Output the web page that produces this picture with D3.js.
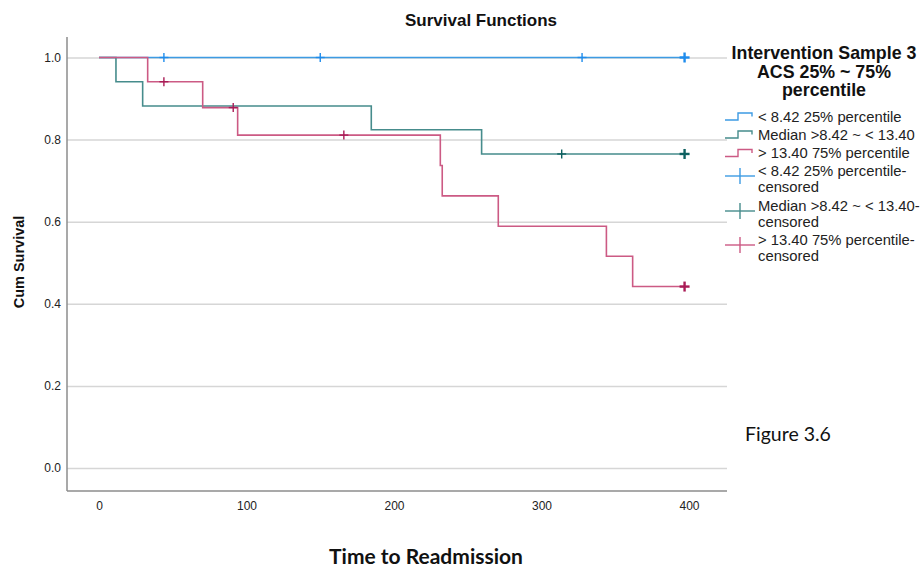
<!DOCTYPE html>
<html>
<head>
<meta charset="utf-8">
<script src="https://cdn.jsdelivr.net/npm/d3@7"></script>
<style>
  body { margin: 0; background: #fff; }
  svg { display: block; font-family: "Liberation Sans", Arial, sans-serif; }
</style>
</head>
<body>
<div id="chart"><svg width="922" height="569"></svg></div>
<script>
// step points [time, cum survival]
const lowSteps = [[0, 1.0], [397, 1.0]];
const midSteps = [[0, 1.0], [11.5, 0.941], [29.6, 0.882], [184.6, 0.824], [259.4, 0.765], [397, 0.765]];
const highSteps = [[0, 1.0], [33, 0.941], [70.3, 0.878], [94, 0.811], [231.4, 0.737], [232.7, 0.663],
                   [270.7, 0.589], [344, 0.516], [361.8, 0.442], [397, 0.442]];

// censored cases [time, cum survival, heavy]
const lowCensored = [[44, 1.0, 0], [150, 1.0, 0], [327.5, 1.0, 0], [397, 1.0, 1]];
const midCensored = [[313.7, 0.765, 0], [397, 0.765, 1]];
const highCensored = [[44, 0.941, 0], [91, 0.878, 0], [166, 0.811, 0], [397, 0.442, 1]];

const xTicks = [0, 100, 200, 300, 400];
const yTicks = [0, 0.2, 0.4, 0.6, 0.8, 1.0];

const groupNames = ["< 8.42 25% percentile", "Median >8.42 ~ < 13.40", "> 13.40 75% percentile"];
const lineColors = ["#3d9be3", "#468c8c", "#cc5a84"];
const markColors = ["#1e8ced", "#0e6060", "#a91c56"];

const svg = d3.select("svg");
const plot = {left: 67, right: 727, top: 37, bottom: 491};

const x = d3.scaleLinear().domain([0, 400]).range([99, 689]);
const y = d3.scaleLinear().domain([0, 1]).range([468, 57.5]);

// y axis with gridlines
const gy = svg.append("g")
    .attr("transform", `translate(${plot.left},0)`)
    .call(d3.axisLeft(y).tickValues(yTicks).tickFormat(d3.format(".1f"))
        .tickSize(-(plot.right - plot.left)).tickPadding(6));
gy.select(".domain").remove();
gy.selectAll(".tick line").attr("stroke", "#d6d6d6").attr("stroke-width", 1.5);
gy.selectAll(".tick text").attr("fill", "#222").style("font-size", "12px");

const gx = svg.append("g")
    .attr("transform", `translate(0,${plot.bottom})`)
    .call(d3.axisBottom(x).tickValues(xTicks).tickSize(0).tickPadding(10));
gx.select(".domain").remove();
gx.selectAll(".tick text").attr("fill", "#222").style("font-size", "12px");

// axis frame
svg.append("line").attr("x1", plot.left).attr("x2", plot.left)
    .attr("y1", plot.top).attr("y2", plot.bottom)
    .attr("stroke", "#8c8c8c").attr("stroke-width", 1.5);
svg.append("line").attr("x1", plot.left).attr("x2", plot.right)
    .attr("y1", plot.bottom).attr("y2", plot.bottom)
    .attr("stroke", "#8c8c8c").attr("stroke-width", 1.5);

const line = d3.line().x(d => x(d[0])).y(d => y(d[1])).curve(d3.curveStepAfter);

const series = [lowSteps, midSteps, highSteps];
const censored = [lowCensored, midCensored, highCensored];

series.forEach((s, i) => {
    svg.append("path").datum(s)
        .attr("d", line)
        .attr("fill", "none")
        .attr("stroke", lineColors[i])
        .attr("stroke-width", 1.6);
});

function cross(g, cx, cy, half, color, w) {
    g.append("line").attr("x1", cx - half).attr("x2", cx + half).attr("y1", cy).attr("y2", cy)
        .attr("stroke", color).attr("stroke-width", w);
    g.append("line").attr("x1", cx).attr("x2", cx).attr("y1", cy - half).attr("y2", cy + half)
        .attr("stroke", color).attr("stroke-width", w);
}

const marks = svg.append("g");
censored.forEach((c, i) => {
    c.forEach(d => cross(marks, x(d[0]), y(d[1]), d[2] ? 5 : 4.5, markColors[i], d[2] ? 2.4 : 1.4));
});

// titles
svg.append("text").attr("x", 481).attr("y", 26).attr("text-anchor", "middle")
    .style("font-size", "17px").style("font-weight", "bold").attr("fill", "#111")
    .text("Survival Functions");

svg.append("text").attr("transform", "translate(24,262) rotate(-90)").attr("text-anchor", "middle")
    .style("font-size", "14.5px").style("font-weight", "bold").attr("fill", "#111")
    .text("Cum Survival");

svg.append("text").attr("x", 426).attr("y", 564).attr("text-anchor", "middle")
    .style("font-family", "Lato, 'Open Sans', sans-serif")
    .style("font-size", "21px").style("font-weight", "bold").attr("fill", "#111")
    .text("Time to Readmission");

svg.append("text").attr("x", 745).attr("y", 441)
    .style("font-family", "Lato, 'Open Sans', sans-serif")
    .style("font-size", "19.5px").attr("fill", "#111")
    .text("Figure 3.6");

// legend
const legend = svg.append("g");
["Intervention Sample 3", "ACS 25% ~ 75%", "percentile"].forEach((t, i) => {
    legend.append("text").attr("x", 824).attr("y", 59 + i * 18.5).attr("text-anchor", "middle")
        .style("font-size", "17.8px").style("font-weight", "bold").attr("fill", "#111").text(t);
});

const stepRows = [116.5, 134.5, 153];
groupNames.forEach((name, i) => {
    const cy = stepRows[i];
    legend.append("path")
        .attr("d", `M725,${cy + 3.5}H738V${cy - 3.5}H752V${cy}`)
        .attr("fill", "none").attr("stroke", lineColors[i]).attr("stroke-width", 1.4);
    legend.append("text").attr("x", 758).attr("y", cy + 5)
        .style("font-size", "14.8px").attr("fill", "#222").text(name);
});

const plusRows = [176, 211, 245];
groupNames.forEach((name, i) => {
    const cy = plusRows[i];
    legend.append("line").attr("x1", 725).attr("x2", 755).attr("y1", cy).attr("y2", cy)
        .attr("stroke", lineColors[i]).attr("stroke-width", 1.4);
    legend.append("line").attr("x1", 740).attr("x2", 740).attr("y1", cy - 8).attr("y2", cy + 8)
        .attr("stroke", lineColors[i]).attr("stroke-width", 1.4);
    legend.append("text").attr("x", 758).attr("y", cy)
        .style("font-size", "14.8px").attr("fill", "#222").text(name + "-");
    legend.append("text").attr("x", 758).attr("y", cy + 16)
        .style("font-size", "14.8px").attr("fill", "#222").text("censored");
});
</script>
</body>
</html>
